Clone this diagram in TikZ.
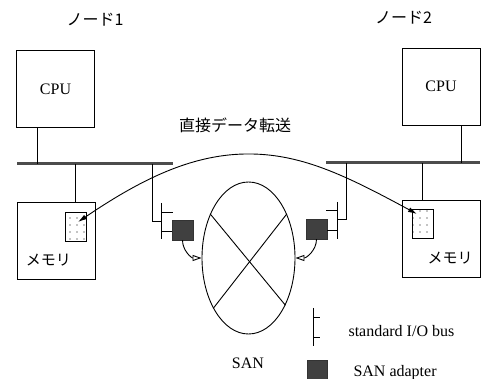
\documentclass[tikz,border=0pt]{standalone}
\usepackage{fontspec}
\setmainfont{Liberation Serif}
\newfontfamily\jp{Noto Sans CJK JP}
\usepackage{tikz}
\usetikzlibrary{arrows.meta,positioning,calc,shapes.geometric,patterns}

\pgfdeclarepatternformonly{sparsedots}{\pgfqpoint{-1pt}{-1pt}}{\pgfqpoint{1pt}{1pt}}{\pgfqpoint{7pt}{7pt}}{%
  \pgfpathcircle{\pgfqpoint{0pt}{0pt}}{0.6pt}\pgfusepath{fill}}

\begin{document}
\begin{tikzpicture}[
    x=1pt, y=-1pt,
    every node/.style={font=\fontsize{16}{18}\selectfont},
    box/.style={draw, line width=0.9pt, minimum width=78pt, minimum height=77pt, inner sep=0pt},
    buffer/.style={draw, line width=0.9pt, pattern=sparsedots, minimum width=21pt, minimum height=29pt, inner sep=0pt},
    adapter/.style={draw=black!80, fill=black!75, minimum width=21pt, minimum height=20pt, inner sep=0pt},
    bus/.style={line width=3pt, black!70},
    wire/.style={line width=0.9pt},
    link/.style={wire, -{Triangle[open,length=9pt,width=6pt]}},
    transfer/.style={wire, {Latex[length=9pt,width=5pt]}-{Latex[length=9pt,width=5pt]}}
]
\useasboundingbox (0,0) rectangle (483,379);

% node 1
\node at (95,20) (titleA) {\jp ノード1};
\node[box] at (55.5,89) (cpuA) {CPU};
\node[box] at (56,240.5) (memA) {};
\node[buffer] at (75.5,226.5) (bufA) {};
\node at (48.5,260) (memlabA) {\jp\fontsize{15}{17}\selectfont メモリ};
\node[adapter] at (182.5,230) (adpA) {};

% node 2
\node at (403.5,18) (titleB) {\jp ノード2};
\node[box] at (441,86.5) (cpuB) {CPU};
\node[box] at (441.5,238.5) (memB) {};
\node[buffer] at (422.5,223.5) (bufB) {};
\node at (450,258) (memlabB) {\jp\fontsize{15}{17}\selectfont メモリ};
\node[adapter] at (316.5,229) (adpB) {};

% SAN
\node[draw, ellipse, line width=0.9pt, minimum width=93pt, minimum height=152pt, inner sep=0pt] at (248.5,258) (san) {};
\node at (248,363) (sanlab) {SAN};

% buses
\coordinate (busA-w) at (17,164);
\coordinate (busA-e) at (173,164);
\coordinate (busB-w) at (326,163);
\coordinate (busB-e) at (480,163);
\draw[bus] (busA-w) -- (busA-e);
\draw[bus] (busB-w) -- (busB-e);

\draw[wire] (cpuA.south -| 37,0) -- (busA-w -| 37,0);
\draw[wire] (busA-w -| 75,0) -- (memA.north -| 75,0);
\draw[wire] (cpuB.south -| 461,0) -- (busB-w -| 461,0);
\draw[wire] (busB-w -| 422,0) -- (memB.north -| 422,0);

% standard I/O bus, node 1
\coordinate (ioA-t) at (161,203);
\coordinate (ioA-b) at (161,239);
\draw[wire] (busA-w -| 152,0) -- (152,221) -- (161,221);
\draw[wire] (ioA-t) -- (ioA-b);
\draw[wire] (161,212) -- (173,212);
\draw[wire] (161,231) -- (adpA.west |- 0,231);

% standard I/O bus, node 2
\coordinate (ioB-t) at (337,202);
\coordinate (ioB-b) at (337,239);
\draw[wire] (busB-w -| 346,0) -- (346,219) -- (337,219);
\draw[wire] (ioB-t) -- (ioB-b);
\draw[wire] (337,210) -- (326,210);
\draw[wire] (337,230) -- (adpB.east |- 0,230);

% adapters into the SAN
\draw[link] (adpA.south) to[out=-90, in=180] (san.west);
\draw[link] (adpB.south) to[out=-90, in=0] (san.east);
\draw[wire] (san.131) -- (san.308);
\draw[wire] (san.49) -- (san.235);

% direct data transfer
\coordinate (tipA) at (78,222);
\coordinate (tipB) at (417,214);
\draw[transfer] (tipA) .. controls (140,180) and (190,155) .. (245,154)
    .. controls (300,153) and (345,175) .. (tipB);
\node at (235,125) (xferlab) {\jp 直接データ転送};

% legend
\coordinate (legio-t) at (313,308);
\coordinate (legio-b) at (313,346);
\draw[wire] (legio-t) -- (legio-b);
\draw[wire] (313,317) -- (320,317);
\draw[wire] (313,337) -- (320,337);
\node[anchor=west] at (345,331) (leglabio) {standard I/O bus};
\node[adapter, minimum width=20pt, minimum height=19pt] at (317,369.5) (legadp) {};
\node[anchor=west] at (350,373) (leglabadp) {SAN adapter};

\end{tikzpicture}
\end{document}
